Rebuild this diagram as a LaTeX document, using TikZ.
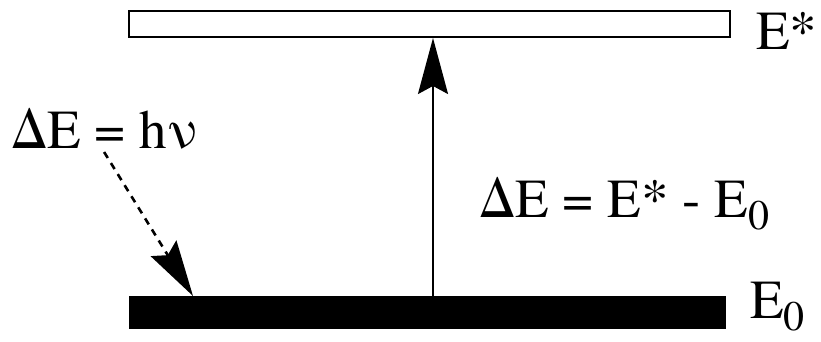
\documentclass[tikz,border=0pt]{standalone}
\usepackage{fontspec}
\setmainfont{texgyretermes-regular.otf}
\usetikzlibrary{arrows.meta}
\usetikzlibrary{positioning}

\tikzset{
  level/.style={draw,line width=2pt,inner sep=0pt},
  label/.style={font=\fontsize{55}{60}\selectfont,inner sep=3pt},
  absorb/.style={line width=2pt,-{Stealth[length=56pt,width=30pt,inset=8pt]}},
  photonarrow/.style={line width=2.6pt,dash pattern=on 7pt off 6pt,
    -{Stealth[length=56pt,width=30pt,inset=8pt]}}
}
\newcommand{\subnum}[1]{\raisebox{-0.22em}{\fontsize{42}{46}\selectfont #1}}

\begin{document}
\begin{tikzpicture}[x=1pt,y=-1pt]
\useasboundingbox (0,0) rectangle (821,342);
% energy levels
\node[level,fill=white,minimum width=601pt,minimum height=26pt] (upper) at (429.5,24) {};
\node[level,fill=black,minimum width=595pt,minimum height=31pt] (lower) at (427.5,312.5) {};
\node[label,anchor=base west] (estar) at (753,50) {E*};
\node[label,anchor=base west,inner sep=0pt] (ezero) at (750,318) {E\subnum{0}};
% energy gap
\node[label,anchor=base west] (gap) at (476,217) {ΔE = E* - E\subnum{0}};
\node[label,anchor=base west] (photon) at (8,148) {ΔE = hν};
\coordinate (axis) at (433,0);
\coordinate (hit) at (193,0);
\draw[absorb] (lower.north -| axis) -- (upper.south -| axis);
\draw[photonarrow] (photon.south) -- (lower.north -| hit);
\end{tikzpicture}
\end{document}
